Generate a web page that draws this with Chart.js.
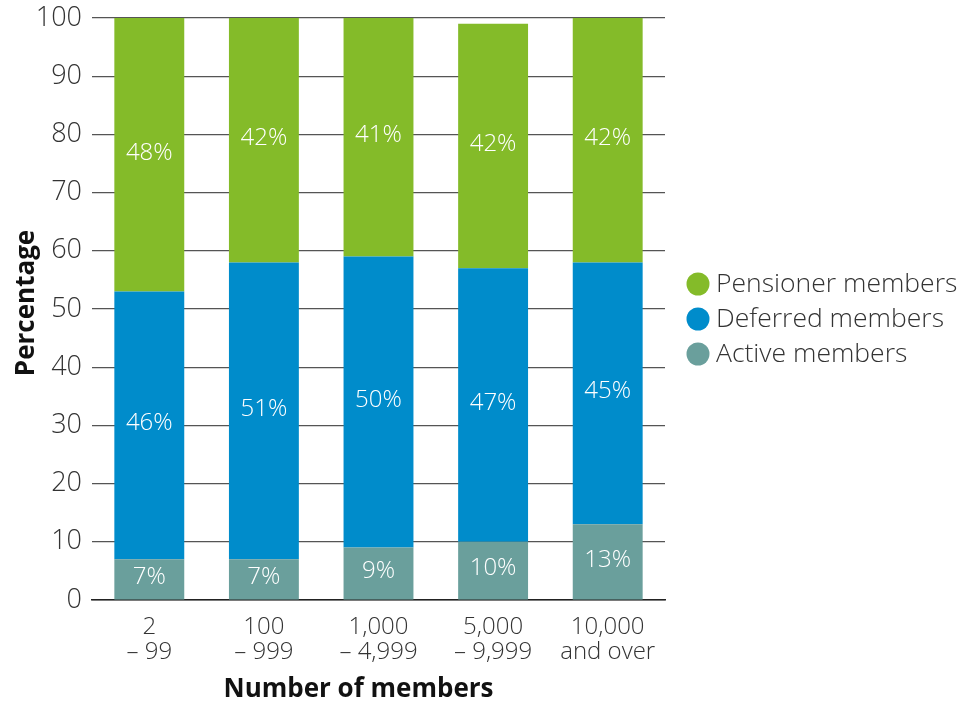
<!DOCTYPE html>
<html>
<head>
<meta charset="utf-8">
<script src="https://cdn.jsdelivr.net/npm/chart.js@4.4.1/dist/chart.umd.min.js"></script>
<style>
  html, body { margin: 0; padding: 0; background: #fff; }
  #wrap { width: 970px; height: 706px; position: relative; }
</style>
</head>
<body>
<div id="wrap"><canvas id="c" width="970" height="706"></canvas></div>
<script>
// Scheme size bands (two-line tick labels)
const categories = [
  ['2', '\u2013 99'],
  ['100', '\u2013 999'],
  ['1,000', '\u2013 4,999'],
  ['5,000', '\u2013 9,999'],
  ['10,000', 'and over']
];

// Share of members by type, in percent
const activeMembers    = [7, 7, 9, 10, 13];
const deferredMembers  = [46, 51, 50, 47, 45];
const pensionerMembers = [48, 42, 41, 42, 42];

const yTicks = [0, 10, 20, 30, 40, 50, 60, 70, 80, 90, 100];

const FONT = "'Open Sans', 'Noto Sans', sans-serif";

// White percentage labels centred in each segment
const segmentLabels = {
  id: 'segmentLabels',
  afterDatasetsDraw(chart) {
    const ctx = chart.ctx;
    const area = chart.chartArea;
    ctx.save();
    ctx.fillStyle = '#ffffff';
    ctx.font = '300 24px ' + FONT;
    ctx.textAlign = 'center';
    ctx.textBaseline = 'middle';
    chart.data.datasets.forEach((ds, di) => {
      const meta = chart.getDatasetMeta(di);
      meta.data.forEach((bar, i) => {
        const top = Math.max(Math.min(bar.y, bar.base), area.top);
        const bottom = Math.min(Math.max(bar.y, bar.base), area.bottom);
        ctx.fillText(ds.data[i] + '%', bar.x, (top + bottom) / 2 - 2);
      });
    });
    ctx.restore();
  }
};

// Axis titles and the legend on the right
const decorations = {
  id: 'decorations',
  afterDraw(chart) {
    const ctx = chart.ctx;
    const area = chart.chartArea;
    ctx.save();
    ctx.fillStyle = '#111';
    ctx.font = 'bold 26px ' + FONT;
    ctx.textAlign = 'center';
    ctx.textBaseline = 'middle';
    ctx.fillText('Number of members', (area.left + area.right) / 2 - 20, 690);
    ctx.translate(27, (area.top + area.bottom) / 2 - 6);
    ctx.rotate(-Math.PI / 2);
    ctx.fillText('Percentage', 0, 0);
    ctx.restore();

    // legend rows listed top-down: last stacked series first
    ctx.save();
    ctx.font = '300 26.5px ' + FONT;
    ctx.textAlign = 'left';
    ctx.textBaseline = 'middle';
    const order = chart.data.datasets.slice().reverse();
    order.forEach((ds, k) => {
      const y = 284 + k * 35;
      ctx.fillStyle = ds.backgroundColor;
      ctx.beginPath();
      ctx.arc(698, y, 11.5, 0, Math.PI * 2);
      ctx.fill();
      ctx.fillStyle = '#333';
      ctx.fillText(ds.label, 716, y);
    });
    ctx.restore();
  }
};

new Chart(document.getElementById('c'), {
  type: 'bar',
  data: {
    labels: categories,
    datasets: [
      { label: 'Active members', data: activeMembers, backgroundColor: '#6a9f9c' },
      { label: 'Deferred members', data: deferredMembers, backgroundColor: '#008ccb' },
      { label: 'Pensioner members', data: pensionerMembers, backgroundColor: '#84bb29' }
    ]
  },
  options: {
    responsive: false,
    animation: false,
    devicePixelRatio: 1,
    datasets: { bar: { categoryPercentage: 1, barPercentage: 0.61 } },
    layout: { padding: { left: 0, right: 305, top: 18, bottom: 0 } },
    plugins: { legend: { display: false }, tooltip: { enabled: false } },
    scales: {
      x: {
        stacked: true,
        grid: { display: false, drawTicks: false },
        border: { display: true, color: '#222', width: 1.5 },
        ticks: { color: '#333', font: { family: FONT, size: 24, weight: '300', lineHeight: 1.04 }, padding: 15, maxRotation: 0 },
        afterFit(scale) { scale.height = 106; scale.paddingLeft = 0; scale.paddingRight = 0; }
      },
      y: {
        stacked: true,
        min: 0,
        max: 100,
        afterBuildTicks(scale) { scale.ticks = yTicks.map(v => ({ value: v })); },
        grid: { color: '#555', lineWidth: 1.2, drawTicks: false },
        border: { display: false },
        ticks: { color: '#333', font: { family: FONT, size: 27, weight: '300' }, padding: 10 },
        afterFit(scale) { scale.width = 92; scale.paddingTop = 0; scale.paddingBottom = 0; }
      }
    }
  },
  plugins: [segmentLabels, decorations]
});
</script>
</body>
</html>
